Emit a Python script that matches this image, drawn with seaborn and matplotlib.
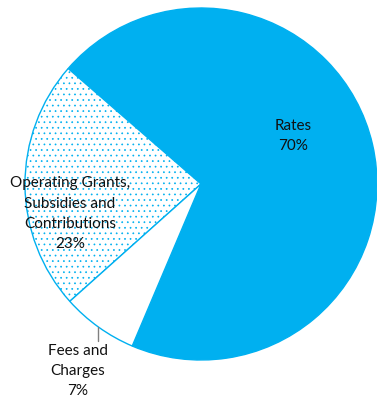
import matplotlib
matplotlib.use("Agg")
import matplotlib.pyplot as plt
import seaborn as sns

sns.set_theme(style="white")
plt.rcParams['font.family'] = ['Lato', 'DejaVu Sans']
plt.rcParams['hatch.linewidth'] = 0.5

categories = ["Rates", "Operating Grants,\nSubsidies and\nContributions", "Fees and\nCharges"]
values = [70, 23, 7]
pct_labels = ["70%", "23%", "7%"]

blue = "#00B0F0"
fig = plt.figure(figsize=(3.77, 4.03), dpi=100)
ax = fig.add_axes([0, 0, 1, 1])
R = 176.0
wedges, _ = ax.pie(values, startangle=247, counterclock=True, radius=1.0,
                   colors=[blue, "white", "white"],
                   wedgeprops=dict(edgecolor=blue, linewidth=1.0))
wedges[1].set_hatch("...")
ax.set_xlim(-201 / R, 176 / R)
ax.set_ylim(-219 / R, 184 / R)
ax.set_aspect("auto")
ax.axis("off")

pos = [(0.523, 0.275), (-0.744, -0.168), (-0.699, -1.065)]
for (x, y), c, p in zip(pos, categories, pct_labels):
    ax.text(x, y, f"{c}\n{p}", ha="center", va="center", fontsize=11,
            linespacing=1.55, color="#111111")
ax.plot([-0.585, -0.585], [-0.813, -0.892], color="#808080", lw=1)

fig.savefig("out.png", dpi=100)
